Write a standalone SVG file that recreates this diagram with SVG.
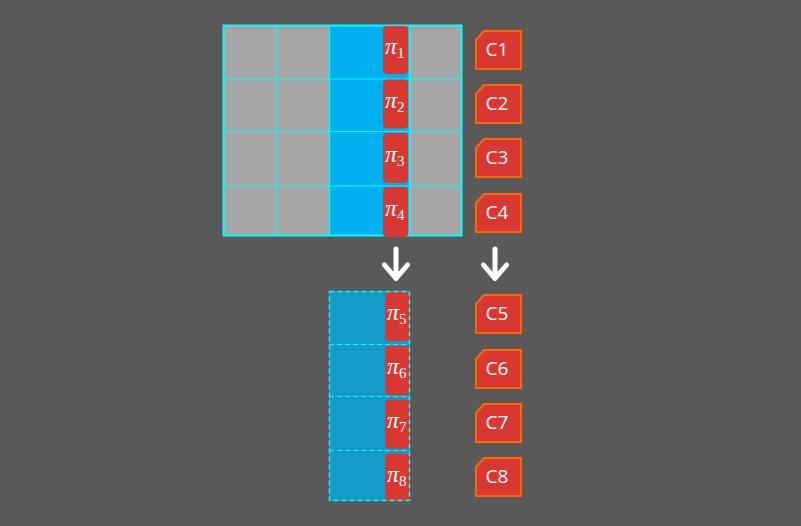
<svg xmlns="http://www.w3.org/2000/svg" width="801" height="526" viewBox="0 0 801 526">
<defs>
<style>
.gray{fill:#A6A6A6}
.blue{fill:#00B0F0}
.grid{stroke:#00FFFF;stroke-width:1;fill:none}
.outer{stroke:#00FFFF;stroke-width:2;fill:none}
.pi{fill:#D93832}
.pt{fill:#FFFFFF;font-family:"Liberation Serif","DejaVu Serif",serif;font-style:italic;font-size:24px}
.sub{font-style:normal;font-size:15px}
.cbox{fill:#D93832;stroke:#FF6600;stroke-width:2}
.ct{fill:#FFFFFF;font-family:"Open Sans","Noto Sans",sans-serif;font-size:19px;text-anchor:middle}
.arrow{stroke:#FFFFFF;stroke-width:5;fill:none;stroke-linecap:round;stroke-linejoin:round}
.dash{stroke:#00FFFF;stroke-dasharray:5 3;fill:none}
</style>
<clipPath id="colclip"><rect x="329" y="291" width="81" height="210"/></clipPath>
</defs>
<rect width="801" height="526" fill="#595959"/>

<g id="grid">
<rect class="gray" x="223" y="25" width="106" height="211"/>
<rect class="gray" x="409" y="25" width="53" height="211"/>
<rect class="blue" x="329" y="25" width="80" height="211"/>
<line class="grid" x1="276" y1="25" x2="276" y2="236"/>
<line class="grid" x1="329.5" y1="25" x2="329.5" y2="236" style="stroke-width:1.5"/>
<line class="grid" x1="409.5" y1="25" x2="409.5" y2="236" style="stroke-width:1.5"/>
<line class="grid" x1="223" y1="79" x2="462" y2="79"/>
<line class="grid" x1="223" y1="131.5" x2="462" y2="131.5"/>
<line class="grid" x1="223" y1="186" x2="462" y2="186"/>
<rect class="outer" x="223.5" y="25.5" width="238" height="210"/>
</g>

<g id="pi1"><rect class="pi" x="383" y="26" width="25" height="48" rx="4"/><text class="pt" x="385" y="53.5">π<tspan class="sub" dy="4">1</tspan></text></g>
<g id="pi2"><rect class="pi" x="383" y="79.5" width="25" height="49" rx="4"/><text class="pt" x="385" y="107.5">π<tspan class="sub" dy="4">2</tspan></text></g>
<g id="pi3"><rect class="pi" x="383" y="133" width="25" height="50" rx="4"/><text class="pt" x="385" y="161.5">π<tspan class="sub" dy="4">3</tspan></text></g>
<g id="pi4"><rect class="pi" x="383" y="187" width="25" height="50" rx="4"/><text class="pt" x="385" y="215.5">π<tspan class="sub" dy="4">4</tspan></text></g>

<g id="C1"><path class="cbox" d="M476,40 L484,31 L521,31 L521,69 L476,69 Z"/><text class="ct" x="497" y="55.5">C1</text></g>
<g id="C2"><path class="cbox" d="M476,94 L484,85 L521,85 L521,123 L476,123 Z"/><text class="ct" x="497" y="109.5">C2</text></g>
<g id="C3"><path class="cbox" d="M476,148 L484,139 L521,139 L521,177 L476,177 Z"/><text class="ct" x="497" y="163.5">C3</text></g>
<g id="C4"><path class="cbox" d="M476,203 L484,194 L521,194 L521,232 L476,232 Z"/><text class="ct" x="497" y="218.5">C4</text></g>

<g id="connectors">
<path class="arrow" d="M396,249 L396,278 M384.5,265 L396,278.5 L407.5,265"/>
<path class="arrow" d="M495,249 L495,278 M483.5,265 L495,278.5 L506.5,265"/>
</g>

<g id="column">
<rect x="329" y="291" width="81" height="210" fill="#159BCA"/>
<g clip-path="url(#colclip)">
<rect class="pi" x="385" y="292" width="25" height="49" rx="4"/>
<rect class="pi" x="385" y="346" width="25" height="49" rx="4"/>
<rect class="pi" x="385" y="399.5" width="25" height="49" rx="4"/>
<rect class="pi" x="385" y="453.5" width="25" height="48" rx="4"/>
<text class="pt" x="387" y="320">π<tspan class="sub" dy="4">5</tspan></text>
<text class="pt" x="387" y="374">π<tspan class="sub" dy="4">6</tspan></text>
<text class="pt" x="387" y="428">π<tspan class="sub" dy="4">7</tspan></text>
<text class="pt" x="387" y="482">π<tspan class="sub" dy="4">8</tspan></text>
</g>
<line class="dash" x1="329" y1="344.5" x2="410" y2="344.5" style="stroke-width:1"/>
<line class="dash" x1="329" y1="396.5" x2="410" y2="396.5" style="stroke-width:1"/>
<line class="dash" x1="329" y1="450.5" x2="410" y2="450.5" style="stroke-width:1"/>
<rect class="dash" x="329.5" y="291.5" width="80" height="209" style="stroke-width:1.5"/>
</g>

<g id="C5"><path class="cbox" d="M476,304 L484,295 L521,295 L521,333 L476,333 Z"/><text class="ct" x="497" y="319.5">C5</text></g>
<g id="C6"><path class="cbox" d="M476,359 L484,350 L521,350 L521,388 L476,388 Z"/><text class="ct" x="497" y="374.5">C6</text></g>
<g id="C7"><path class="cbox" d="M476,413 L484,404 L521,404 L521,442 L476,442 Z"/><text class="ct" x="497" y="428.5">C7</text></g>
<g id="C8"><path class="cbox" d="M476,467 L484,458 L521,458 L521,496 L476,496 Z"/><text class="ct" x="497" y="482.5">C8</text></g>
</svg>
